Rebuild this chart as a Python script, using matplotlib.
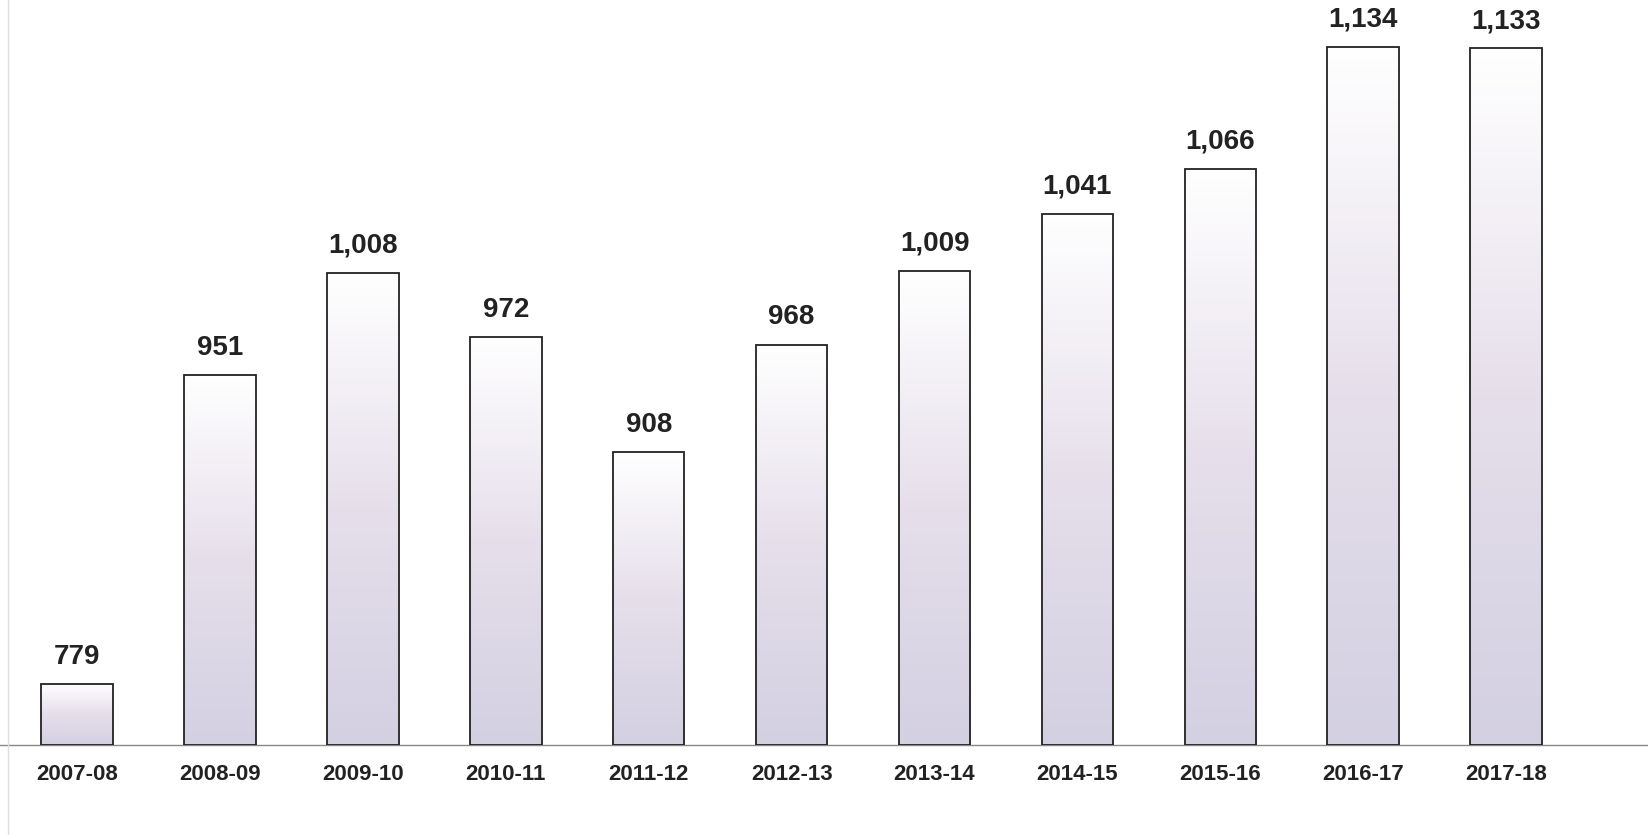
import numpy as np
import matplotlib.pyplot as plt
from matplotlib.colors import LinearSegmentedColormap

# values
years = ['2007-08', '2008-09', '2009-10', '2010-11', '2011-12', '2012-13',
         '2013-14', '2014-15', '2015-16', '2016-17', '2017-18']
values = [779, 951, 1008, 972, 908, 968, 1009, 1041, 1066, 1134, 1133]

plt.rcParams['font.family'] = ['Liberation Sans', 'DejaVu Sans']

fig = plt.figure(figsize=(16.49, 8.35), dpi=100)
ax = fig.add_axes([0, 90 / 835, 1, 745 / 835])

x = np.arange(len(years))
base = 745
bars = ax.bar(x, np.array(values) - base, bottom=base, width=0.5,
              facecolor='none', edgecolor='#222222', linewidth=1.3, zorder=3)

# vertical white -> lavender gradient inside each bar
cmap = LinearSegmentedColormap.from_list('lav', ['#d3d0e2', '#e6dfeb', '#ffffff'])
grad = np.linspace(0, 1, 256).reshape(-1, 1)
for b in bars:
    x0, y0 = b.get_x(), b.get_y()
    im = ax.imshow(grad, cmap=cmap, origin='lower', aspect='auto',
                   extent=[x0, x0 + b.get_width(), y0, y0 + b.get_height()], zorder=2)
    im.set_clip_path(b)

for xi, v in zip(x, values):
    ax.text(xi, v + 8, f'{v:,}', ha='center', va='bottom',
            fontsize=20, fontweight='bold', color='#222222')

ax.set_xlim(-0.54, 11.0)
ax.set_ylim(base, 1160)
ax.set_xticks(x)
ax.set_xticklabels(years, fontsize=16, fontweight='bold', color='#222222')
ax.tick_params(axis='x', length=0, pad=14)
ax.set_yticks([])
for s in ['top', 'right', 'left']:
    ax.spines[s].set_visible(False)
ax.spines['bottom'].set_color('#888888')
ax.spines['bottom'].set_linewidth(1)
fig.add_artist(plt.Line2D([8 / 1649, 8 / 1649], [0, 1], color='#dddddd', lw=1))

fig.savefig('out.png', dpi=100)
